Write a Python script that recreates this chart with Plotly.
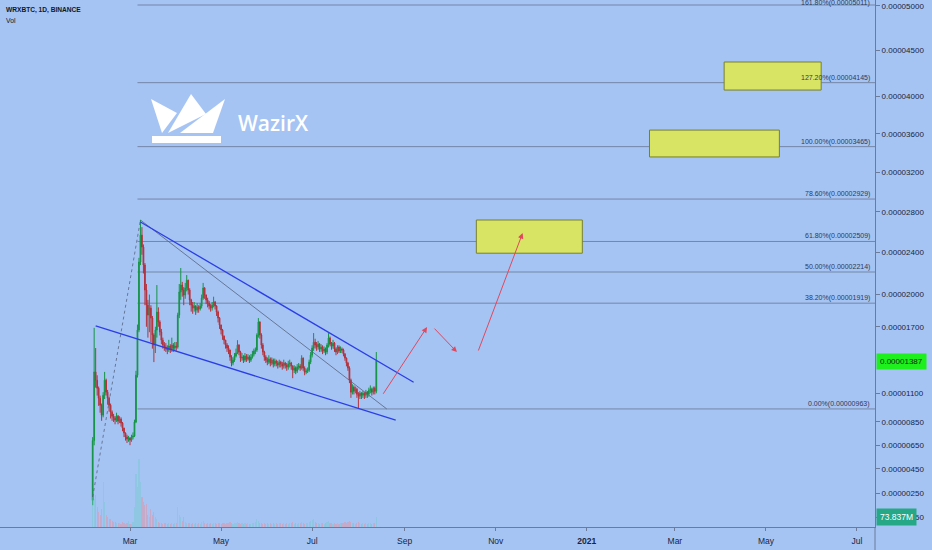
import numpy as np
import pandas as pd
import plotly.graph_objects as go

# ---------------- data (prices in satoshi = 1e-8 BTC) ----------------
start_date = "2020-02-05"
first_open = 190
close = [690, 1290, 1216, 1145, 1057, 996, 909, 1083, 1216, 1110,
         1057, 996, 935, 900, 883, 866, 900, 857, 875, 840,
         797, 754, 720, 703, 711, 694, 720, 728, 849, 1261,
         1670, 2310, 2571, 2454, 2281, 2043, 1901, 1808, 1873, 1780,
         1624, 1532, 1670, 1836, 1744, 1652, 1577, 1532, 1514, 1505,
         1487, 1523, 1496, 1532, 1505, 1523, 1514, 1808, 2024, 2090,
         2043, 1996, 2062, 2136, 2043, 1949, 1901, 1873, 1892, 1854,
         1882, 1864, 1892, 1968, 2062, 1996, 1949, 1920, 1892, 1873,
         1901, 1930, 1892, 1836, 1780, 1716, 1670, 1614, 1577, 1532,
         1505, 1487, 1423, 1369, 1396, 1432, 1459, 1532, 1469, 1414,
         1423, 1396, 1432, 1405, 1423, 1396, 1423, 1450, 1478, 1487,
         1624, 1744, 1624, 1532, 1469, 1423, 1396, 1378, 1405, 1369,
         1396, 1360, 1387, 1369, 1351, 1378, 1360, 1342, 1369, 1351,
         1333, 1360, 1369, 1342, 1306, 1324, 1297, 1333, 1342, 1324,
         1414, 1324, 1288, 1297, 1306, 1378, 1441, 1505, 1559, 1532,
         1514, 1541, 1496, 1514, 1478, 1496, 1469, 1532, 1596, 1541,
         1523, 1550, 1496, 1469, 1514, 1478, 1496, 1487, 1450, 1414,
         1369, 1324, 1216, 1110, 1154, 1118, 1136, 1092, 1075, 1101,
         1083, 1101, 1083, 1110, 1092, 1127, 1136, 1110, 1145, 1118,
         1387]
high = [720, 1690, 1505, 1260, 1160, 1080, 1010, 1110, 1290, 1230,
        1130, 1070, 1010, 950, 920, 900, 930, 910, 900, 890,
        850, 800, 760, 740, 730, 720, 740, 760, 870, 1300,
        1720, 2350, 2720, 2650, 2480, 2300, 2100, 1950, 2000, 1900,
        1800, 1640, 1700, 2090, 1880, 1760, 1680, 1600, 1560, 1550,
        1530, 1580, 1540, 1600, 1550, 1560, 1560, 1830, 2100, 2252,
        2120, 2070, 2110, 2185, 2140, 2060, 1960, 1930, 1930, 1900,
        1920, 1900, 1920, 2000, 2110, 2070, 2000, 1970, 1940, 1910,
        1930, 1980, 1940, 1900, 1850, 1790, 1720, 1680, 1620, 1580,
        1550, 1530, 1490, 1440, 1420, 1460, 1500, 1577, 1540, 1480,
        1460, 1440, 1460, 1450, 1450, 1440, 1450, 1480, 1500, 1510,
        1640, 1780, 1750, 1640, 1550, 1480, 1440, 1420, 1440, 1420,
        1420, 1410, 1410, 1400, 1390, 1400, 1390, 1380, 1400, 1380,
        1370, 1390, 1400, 1380, 1350, 1350, 1340, 1360, 1370, 1360,
        1440, 1420, 1340, 1320, 1330, 1400, 1470, 1530, 1642, 1590,
        1560, 1570, 1550, 1540, 1530, 1520, 1510, 1550, 1642, 1610,
        1560, 1580, 1560, 1510, 1530, 1530, 1520, 1510, 1500, 1460,
        1420, 1380, 1340, 1230, 1180, 1170, 1160, 1150, 1110, 1120,
        1110, 1120, 1110, 1130, 1120, 1150, 1170, 1150, 1160, 1160,
        1469]
low = [150, 650, 1150, 1080, 990, 930, 860, 890, 1050, 1080,
       1000, 940, 880, 860, 850, 830, 850, 830, 840, 810,
       770, 720, 690, 670, 680, 651, 680, 700, 720, 840,
       1240, 1650, 2280, 2380, 2200, 1900, 1700, 1600, 1650, 1560,
       1500, 1378, 1460, 1600, 1700, 1620, 1540, 1500, 1480, 1470,
       1450, 1470, 1460, 1470, 1470, 1480, 1480, 1500, 1780, 1950,
       1980, 1900, 1960, 2030, 2000, 1900, 1840, 1820, 1840, 1810,
       1830, 1830, 1850, 1870, 1950, 1960, 1910, 1880, 1860, 1840,
       1850, 1880, 1860, 1800, 1740, 1680, 1630, 1580, 1540, 1500,
       1470, 1450, 1390, 1340, 1350, 1380, 1420, 1450, 1440, 1380,
       1390, 1370, 1380, 1380, 1390, 1370, 1380, 1410, 1430, 1450,
       1470, 1600, 1590, 1500, 1440, 1390, 1370, 1350, 1360, 1340,
       1350, 1330, 1340, 1340, 1320, 1330, 1330, 1310, 1320, 1320,
       1300, 1310, 1330, 1310, 1234, 1280, 1270, 1280, 1310, 1300,
       1310, 1300, 1260, 1270, 1280, 1290, 1360, 1420, 1480, 1500,
       1480, 1490, 1470, 1470, 1450, 1460, 1440, 1450, 1510, 1520,
       1490, 1500, 1470, 1440, 1450, 1460, 1460, 1460, 1430, 1390,
       1340, 1300, 1190, 1060, 1090, 1090, 1100, 1060, 963, 1050,
       1050, 1060, 1050, 1060, 1060, 1070, 1100, 1080, 1090, 1090,
       1100]
volume_m = [222, 207, 237, 148, 111, 89, 133, 333, 185, 89,
            74, 59, 59, 44, 37, 37, 30, 30, 30, 22,
            37, 30, 22, 30, 44, 22, 22, 37, 148, 392,
            296, 503, 333, 222, 185, 163, 170, 89, 74, 133,
            89, 111, 74, 59, 37, 30, 26, 22, 30, 26,
            22, 30, 22, 26, 22, 30, 26, 148, 89, 74,
            44, 74, 37, 30, 26, 30, 22, 26, 22, 30,
            22, 26, 22, 37, 44, 30, 22, 26, 22, 30,
            22, 26, 30, 22, 26, 30, 22, 26, 30, 22,
            26, 30, 37, 30, 22, 26, 30, 37, 26, 22,
            26, 22, 30, 22, 26, 22, 22, 30, 26, 37,
            59, 44, 30, 26, 22, 26, 22, 26, 22, 30,
            22, 26, 22, 30, 22, 26, 30, 22, 26, 22,
            30, 22, 26, 30, 37, 22, 26, 22, 30, 26,
            37, 26, 22, 26, 30, 37, 44, 52, 59, 37,
            30, 26, 22, 30, 26, 22, 26, 37, 44, 30,
            26, 22, 30, 22, 26, 22, 30, 26, 30, 37,
            30, 37, 44, 37, 30, 26, 22, 30, 37, 26,
            22, 26, 22, 30, 22, 26, 30, 22, 26, 30,
            73.837]

y_ticks = [5000, 4500, 4000, 3600, 3200, 2800, 2400, 2000, 1700, 1100, 850, 650, 450, 250, 50]
x_tick_dates = ["2020-03-01", "2020-05-01", "2020-07-01", "2020-09-01", "2020-11-01",
                "2021-01-01", "2021-03-01", "2021-05-01", "2021-07-01"]
x_tick_text = ["Mar", "May", "Jul", "Sep", "Nov", "<b>2021</b>", "Mar", "May", "Jul"]

fib_pct = ["161.80%", "127.20%", "100.00%", "78.60%", "61.80%", "50.00%", "38.20%", "0.00%"]
fib_sat = [5011, 4145, 3465, 2929, 2509, 2214, 1919, 963]
fib_start = "2020-03-06"

upper_trend_x = ["2020-03-08", "2020-09-07"]
upper_trend_y = [2700, 1198]
lower_trend_x = ["2020-02-07", "2020-08-26"]
lower_trend_y = [1707, 866]
fib_ab_x = ["2020-02-05", "2020-03-08"]
fib_ab_y = [218, 2720]
fib_bc_x = ["2020-03-08", "2020-08-20"]
fib_bc_y = [2720, 963]

box_x0 = ["2020-10-19", "2021-02-12", "2021-04-03"]
box_x1 = ["2020-12-29", "2021-05-10", "2021-06-07"]
box_y0 = [2395, 3358, 4065]
box_y1 = [2720, 3638, 4371]

arrow_tail_x = ["2020-08-17", "2020-09-20", "2020-10-20"]
arrow_tail_y = [1083, 1697, 1469]
arrow_head_x = ["2020-09-16", "2020-10-06", "2020-11-19"]
arrow_head_y = [1697, 1469, 2591]

last_price = 1387
last_volume = 73.837

# ---------------- scale (TradingView-like compressed scale) ----------------
C_OFF = 12000.0
def ty(s):
    return np.log(np.asarray(s, dtype=float) + C_OFF)

def sat_label(s):
    return f"{s * 1e-8:.8f}"

W, H = 932, 550
PL, PR, PT, PB = 0, 57, 0, 23
PW, PH = W - PL - PR, H - PT - PB

def pp(x, y):
    return x / PW, 1 - y / PH

BG = "rgb(165,196,243)"
AXC = "#6b7b99"
TXT = "#1b2540"
FONT = "Liberation Sans"

dates = pd.date_range(start_date, periods=len(close), freq="D")
opens = [first_open] + close[:-1]
up = [c >= o for c, o in zip(close, opens)]
vol_colors = ["rgba(110,205,200,0.40)" if u else "rgba(240,140,150,0.45)" for u in up]

fig = go.Figure()
fig.add_trace(go.Bar(x=dates, y=volume_m, yaxis="y2", marker=dict(color=vol_colors, line=dict(width=0)),
                     width=0.75 * 86400000, hoverinfo="skip", showlegend=False))
fig.add_trace(go.Candlestick(x=dates, open=ty(opens), high=ty(high), low=ty(low), close=ty(close),
                             increasing=dict(line=dict(color="#169447", width=1), fillcolor="#169447"),
                             decreasing=dict(line=dict(color="#b3323c", width=1), fillcolor="#b3323c"),
                             whiskerwidth=0, showlegend=False))

# trend lines
fig.add_trace(go.Scatter(x=fib_ab_x, y=ty(fib_ab_y), mode="lines",
                         line=dict(color="#56637e", width=0.8, dash="dot"), showlegend=False, hoverinfo="skip"))
fig.add_trace(go.Scatter(x=fib_bc_x, y=ty(fib_bc_y), mode="lines",
                         line=dict(color="#56637e", width=0.8), showlegend=False, hoverinfo="skip"))
fig.add_trace(go.Scatter(x=upper_trend_x, y=ty(upper_trend_y), mode="lines",
                         line=dict(color="#2b3ee6", width=1.3), showlegend=False, hoverinfo="skip"))
fig.add_trace(go.Scatter(x=lower_trend_x, y=ty(lower_trend_y), mode="lines",
                         line=dict(color="#2b3ee6", width=1.3), showlegend=False, hoverinfo="skip"))

x_end = "2021-07-13 01:30"
x_start = "2019-12-04 22:00"

shapes = []
annotations = []
for i, (pct, lv) in enumerate(zip(fib_pct, fib_sat)):
    shapes.append(dict(type="line", xref="x", yref="y", x0=fib_start, x1=x_end, y0=ty(lv), y1=ty(lv),
                       line=dict(color="#7586a8", width=1), layer="below"))
    annotations.append(dict(xref="paper", yref="y", x=1, y=float(ty(lv)), xanchor="right", yanchor="bottom",
                            xshift=-3, yshift=(-4 if i == 0 else -1), text=f"{pct}({sat_label(lv)})",
                            showarrow=False, font=dict(family=FONT, size=7, color="#2c3a5c")))

for x0, x1, y0, y1 in zip(box_x0, box_x1, box_y0, box_y1):
    shapes.append(dict(type="rect", xref="x", yref="y", x0=x0, x1=x1, y0=ty(y0), y1=ty(y1),
                       fillcolor="rgb(216,228,100)", line=dict(color="rgb(120,128,45)", width=1), layer="above"))

for tx, tyy, hx, hy in zip(arrow_tail_x, arrow_tail_y, arrow_head_x, arrow_head_y):
    annotations.append(dict(x=hx, y=float(ty(hy)), ax=tx, ay=float(ty(tyy)), xref="x", yref="y",
                            axref="x", ayref="y", text="", showarrow=True, arrowhead=2, arrowsize=1.1,
                            arrowwidth=1, arrowcolor="#e2475c", standoff=0))

# logo
def poly(points):
    s = ""
    for i, (x, y) in enumerate(points):
        px, py = pp(x, y)
        s += ("M" if i == 0 else "L") + f"{px:.5f},{py:.5f} "
    return s + "Z"

logo_polys = [
    [(151, 99), (177, 113), (162, 133)],
    [(191, 94), (206, 114), (168, 133)],
    [(225, 99), (213, 133), (180, 133)],
    [(152, 136), (221, 136), (221, 143), (152, 143)],
]
for pts in logo_polys:
    shapes.append(dict(type="path", xref="paper", yref="paper", path=poly(pts),
                       fillcolor="white", line=dict(width=0), layer="above"))
lx, ly = pp(236, 123)
annotations.append(dict(xref="paper", yref="paper", x=lx, y=ly, xanchor="left", yanchor="middle",
                        text="WazirX", showarrow=False,
                        font=dict(family="Open Sans", size=21, color="white", weight=600)))

# right axis extension below the plot
shapes.append(dict(type="line", xref="paper", yref="paper", x0=1, x1=1, y0=0, y1=-PB / PH,
                   line=dict(color=AXC, width=1)))

# header
tx, tyh = pp(4, 10)
annotations.append(dict(xref="paper", yref="paper", x=tx, y=tyh, xanchor="left", yanchor="middle",
                        text="<b>WRXBTC, 1D, BINANCE</b>", showarrow=False,
                        font=dict(family=FONT, size=6.6, color="#131722")))
tx, tyv = pp(4, 20)
annotations.append(dict(xref="paper", yref="paper", x=tx, y=tyv, xanchor="left", yanchor="middle",
                        text="Vol", showarrow=False, font=dict(family=FONT, size=6.8, color="#131722")))

# last price / volume labels
annotations.append(dict(xref="paper", yref="y", x=1, y=float(ty(last_price)), xanchor="left", yanchor="middle",
                        xshift=1, text=sat_label(last_price), showarrow=False, bgcolor="#1ef01e",
                        borderpad=3, font=dict(family=FONT, size=8, color="#102010")))
annotations.append(dict(xref="paper", yref="y2", x=1, y=last_volume, xanchor="left", yanchor="middle",
                        xshift=1, text=f"{last_volume:.3f}M", showarrow=False, bgcolor="#26a887",
                        borderpad=3, font=dict(family=FONT, size=8.5, color="white")))

fig.update_layout(
    width=W, height=H, margin=dict(l=PL, r=PR, t=PT, b=PB),
    paper_bgcolor=BG, plot_bgcolor=BG, showlegend=False, bargap=0,
    shapes=shapes, annotations=annotations,
    xaxis=dict(type="date", range=[x_start, x_end], showgrid=False, zeroline=False,
               showline=True, linecolor=AXC, linewidth=1, ticks="outside", ticklen=3, tickcolor=AXC,
               tickvals=x_tick_dates, ticktext=x_tick_text, rangeslider=dict(visible=False),
               ticklabelstandoff=3,
               tickfont=dict(family=FONT, size=8.5, color=TXT)),
    yaxis=dict(side="right", range=[9.39043, 9.74498], showgrid=False, zeroline=False,
               showline=True, linecolor=AXC, linewidth=1, ticks="outside", ticklen=4, tickcolor=AXC,
               tickvals=list(ty(y_ticks)), ticktext=[sat_label(v) for v in y_ticks],
               tickfont=dict(family=FONT, size=8, color=TXT)),
    yaxis2=dict(overlaying="y", range=[0, 3894], visible=False, fixedrange=True),
)

fig.write_html("out.html", config={"displayModeBar": False},
               post_script="document.body.style.margin='0';document.body.style.background='" + BG + "';")
